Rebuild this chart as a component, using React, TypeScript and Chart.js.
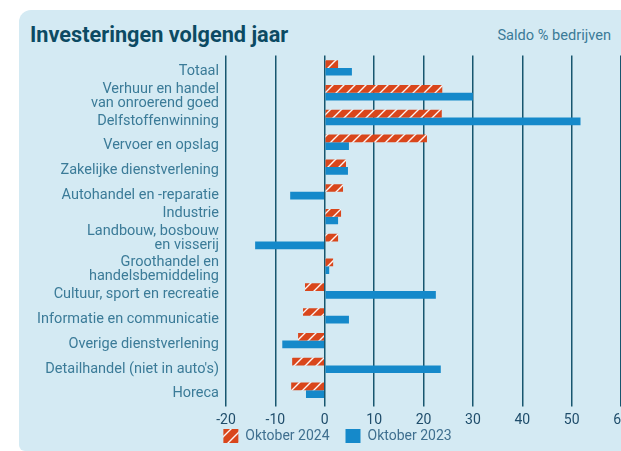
import React, { useEffect, useRef } from "react";
import { Chart, registerables } from "chart.js";

Chart.register(...registerables);

const categories: (string | string[])[] = [
  "Totaal",
  ["Verhuur en handel", "van onroerend goed"],
  "Delfstoffenwinning",
  "Vervoer en opslag",
  "Zakelijke dienstverlening",
  "Autohandel en -reparatie",
  ["Industrie", ""],
  ["Landbouw, bosbouw", "en visserij", ""],
  ["Groothandel en", "handelsbemiddeling"],
  "Cultuur, sport en recreatie",
  "Informatie en communicatie",
  "Overige dienstverlening",
  "Detailhandel (niet in auto's)",
  "Horeca",
];

const oktober2024 = [2.7, 23.8, 23.7, 20.7, 4.3, 3.7, 3.3, 2.7, 1.7, -4.0, -4.4, -5.4, -6.6, -6.8];
const oktober2023 = [5.5, 30.0, 51.8, 4.9, 4.7, -7.0, 2.7, -14.1, 0.9, 22.5, 4.9, -8.6, 23.5, -3.8];

const seriesNames = ["Oktober 2024", "Oktober 2023"];
const xMin = -20;
const xMax = 60;
const xStep = 10;

const ORANGE = "#d9461b";
const BLUE = "#1589ca";
const GRID = "#17566f";
const LABEL = "#3b7b98";
const TICK = "#1f4d6b";

function makeHatch(): CanvasPattern | string {
  const size = 11;
  const c = document.createElement("canvas");
  c.width = size;
  c.height = size;
  const ctx = c.getContext("2d");
  if (!ctx) return ORANGE;
  ctx.fillStyle = ORANGE;
  ctx.fillRect(0, 0, size, size);
  ctx.strokeStyle = "rgba(255,255,255,0.95)";
  ctx.lineWidth = 1.4;
  ctx.beginPath();
  ctx.moveTo(-1, size + 1);
  ctx.lineTo(size + 1, -1);
  ctx.moveTo(-size - 1, size + 1);
  ctx.lineTo(1, -1);
  ctx.moveTo(size - 1, size + 1);
  ctx.lineTo(2 * size + 1, -1);
  ctx.stroke();
  const p = ctx.createPattern(c, "repeat");
  return p || ORANGE;
}

const legendPlacement = {
  id: "legendPlacement",
  beforeLayout(chart: any) {
    const lg = chart.legend;
    if (lg && !lg.__patched) {
      const orig = lg.fit.bind(lg);
      lg.fit = function () {
        orig();
        this.height = 18;
      };
      lg.__patched = true;
    }
  },
  afterLayout(chart: any) {
    const lg = chart.legend;
    if (lg) {
      lg.left = 54;
      lg.right = 621;
      lg.top = 413;
    }
  },
};

export default function App() {
  const ref = useRef<HTMLCanvasElement | null>(null);

  useEffect(() => {
    document.body.style.margin = "0";
    document.body.style.overflow = "hidden";
    if (!ref.current) return;
    const hatch = makeHatch();
    const chart = new Chart(ref.current, {
      type: "bar",
      data: {
        labels: categories,
        datasets: [
          {
            label: seriesNames[0],
            data: oktober2024,
            backgroundColor: hatch as any,
            borderWidth: 0,
            categoryPercentage: 0.62,
            barPercentage: 1,
          },
          {
            label: seriesNames[1],
            data: oktober2023,
            backgroundColor: BLUE,
            borderWidth: 0,
            categoryPercentage: 0.62,
            barPercentage: 1,
          },
        ],
      },
      plugins: [legendPlacement],
      options: {
        indexAxis: "y",
        responsive: false,
        animation: false,
        layout: { padding: { left: 0, right: 19, top: 55.5, bottom: 4.4 } },
        scales: {
          x: {
            type: "linear",
            min: xMin,
            max: xMax,
            ticks: {
              stepSize: xStep,
              color: TICK,
              font: { family: "Roboto", size: 14 },
              padding: 5.5,
            },
            grid: {
              color: GRID,
              lineWidth: 1.5,
              drawTicks: true,
              tickLength: 4,
              tickColor: GRID,
            },
            border: { display: false },
            afterFit: (scale: any) => {
              scale.height = 26;
            },
          },
          y: {
            type: "category",
            grid: { display: false, drawTicks: false },
            border: { display: false },
            ticks: {
              color: LABEL,
              font: { family: "Roboto", size: 14.5, lineHeight: 0.97 },
              padding: 7,
              labelOffset: 3.5,
              autoSkip: false,
            },
            afterFit: (scale: any) => {
              scale.width = 226;
            },
          },
        },
        plugins: {
          legend: {
            position: "bottom",
            labels: {
              boxWidth: 15,
              boxHeight: 14,
              padding: 16,
              color: "#3f6f8f",
              font: { family: "Roboto", size: 14 },
            },
          },
          tooltip: { enabled: false },
        },
      },
    });
    return () => chart.destroy();
  }, []);

  return (
    <div style={{ position: "relative", width: 621, height: 451, overflow: "hidden", fontFamily: "Roboto" }}>
      <div
        style={{
          position: "absolute",
          left: 19,
          top: 10,
          width: 720,
          height: 441,
          background: "#d4eaf3",
          borderRadius: "12px 0 0 6px",
        }}
      />
      <div
        style={{
          position: "absolute",
          left: 30,
          top: 22,
          fontSize: 21.7,
          fontWeight: 700,
          color: "#0c4a63",
          lineHeight: "26px",
          whiteSpace: "nowrap",
        }}
      >
        Investeringen volgend jaar
      </div>
      <div
        style={{
          position: "absolute",
          right: 10,
          top: 26,
          fontSize: 14.6,
          color: LABEL,
          lineHeight: "18px",
          whiteSpace: "nowrap",
        }}
      >
        Saldo % bedrijven
      </div>
      <canvas ref={ref} width={640} height={451} style={{ position: "absolute", left: 0, top: 0 }} />
    </div>
  );
}
